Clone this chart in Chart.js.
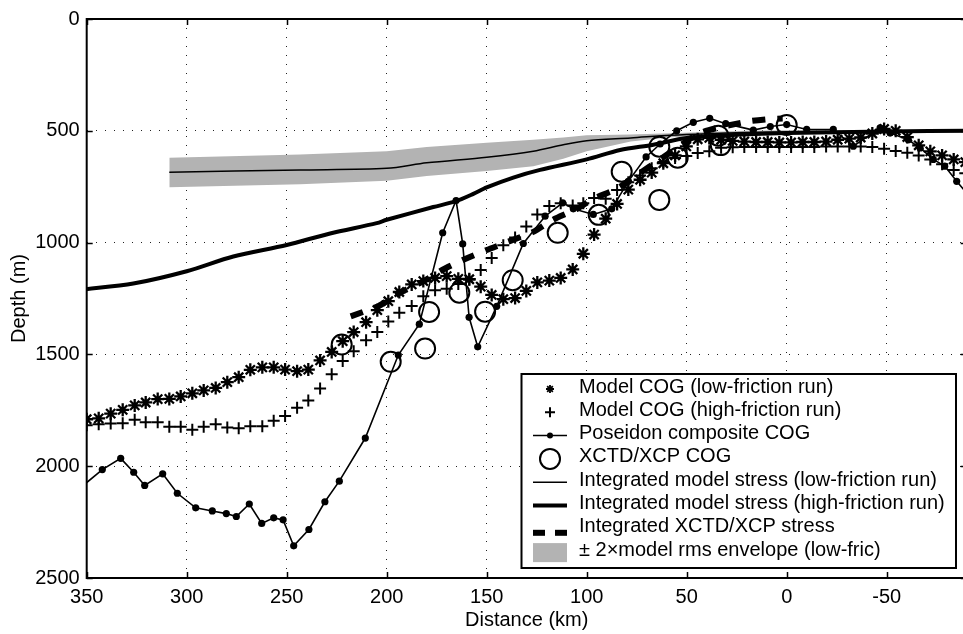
<!DOCTYPE html>
<html>
<head>
<meta charset="utf-8">
<script src="https://cdn.jsdelivr.net/npm/chart.js@4.4.1/dist/chart.umd.min.js"></script>
<style>
  html, body { margin: 0; padding: 0; background: #fff; overflow: hidden; }
  #wrap { width: 980px; height: 634px; }
</style>
</head>
<body>
<div id="wrap"><canvas id="chart" width="980" height="634"></canvas></div>
<script>
// model grid (km) shared by the two model runs
const modelDist = [350, 344, 338, 332, 326, 320.5, 314.5, 308.7, 303, 297.2, 291.5, 285.5, 279.7, 274, 268.2,
  262.2, 256.5, 250.8, 244.8, 239.2, 233.3, 227.5, 222, 216.5, 210.3, 204.7, 199.2, 193.7, 187.5, 181.7,
  175.8, 170, 164.2, 158.7, 153, 147.5, 141.7, 135.8, 130.2, 124.7, 118.7, 113, 107, 101.7, 96.3, 90.5,
  84.8, 79.2, 73.3, 67.5, 61.7, 55.8, 50.2, 44.5, 38.7, 32.8, 27, 21.2, 15.3, 9.5, 3.7, -2.2, -8, -13.8,
  -19.7, -25.5, -31.3, -37, -42.8, -48.7, -54.5, -60.3, -66, -71.8, -77.7, -83.5, -89.3];
const lowFricCog = [1790, 1786, 1765, 1748, 1728, 1715, 1700, 1699, 1688, 1674, 1661, 1650, 1624, 1602, 1569,
  1558, 1558, 1568, 1575, 1568, 1527, 1489, 1441, 1400, 1356, 1302, 1262, 1221, 1187, 1172,
  1158, 1150, 1162, 1164, 1197, 1234, 1253, 1248, 1216, 1178, 1170, 1158, 1120, 1050, 964, 893,
  827, 763, 719, 687, 645, 610, 570, 538, 532, 540, 545, 548, 550, 550, 552, 552, 550, 550,
  548, 540, 535, 530, 512, 492, 500, 528, 565, 592, 610, 628, 640];
const highFricCog = [1817, 1812, 1809, 1808, 1792, 1803, 1803, 1824, 1824, 1837, 1824, 1812, 1827, 1830, 1821,
  1821, 1797, 1775, 1739, 1706, 1653, 1589, 1530, 1486, 1437, 1400, 1353, 1314, 1283, 1240,
  1213, 1206, 1185, 1165, 1123, 1069, 1012, 977, 928, 874, 836, 824, 834, 824, 800, 804,
  765, 730, 700, 668, 640, 622, 613, 599, 592, 576, 574, 573, 573, 573, 573, 573, 573, 573,
  570, 570, 570, 570, 573, 580, 590, 598, 610, 628, 650, 675, 690];

const poseidonDist = [356, 342.2, 333, 326.5, 321, 312, 304.7, 295.5, 287.2, 280.2, 275.2, 268.7, 262.5, 256.5,
  251.8, 246.5, 238.9, 230.9, 223.7, 210.7, 194.2, 183.7, 172, 165.3, 162, 158.8, 154.5, 145, 131.7,
  120.8, 112, 106.7, 96.7, 87.5, 79.2, 70.3, 63.3, 55, 46.7, 38.5, 30.5, 16.7, 8.2, 0, -10, -23.3,
  -33.3, -46.7, -51.7, -60.8, -66.7, -73.3, -79, -85, -91];
const poseidonCog = [2118, 2015, 1965, 2027, 2086, 2034, 2121, 2186, 2200, 2212, 2225, 2169, 2256, 2231,
  2240, 2356, 2283, 2159, 2067, 1874, 1503, 1365, 956, 812, 1006, 1334, 1466, 1285, 1004,
  882, 822, 849, 874, 849, 726, 617, 559, 500, 462, 444, 468, 497, 481, 472, 494, 494,
  569, 487, 510, 540, 577, 628, 658, 726, 790];

const xctdDist = [222.5, 198, 180.8, 178.8, 163.7, 150.8, 137, 114.5, 94, 82.5, 63.7, 63.7, 54.5, 34.2, 33, 0];
const xctdCog = [1456, 1533, 1474, 1310, 1224, 1309, 1168, 956, 876, 683, 809, 571, 620, 522, 564, 474];

const xctdStressDist = [218, 204, 193.3, 182.5, 172, 161.7, 150, 139.2, 126.7, 116.7, 105, 96.7, 85, 74.2, 63.3, 43, 20, 8.3, 2];
const xctdStress = [1330, 1283, 1224, 1177, 1121, 1077, 1033, 996, 952, 897, 850, 804, 760, 694, 628, 509, 459, 447, 445];

const lowStressDist = [308.7, 243.3, 200, 180, 150, 126.7, 111.7, 100, 78, 58, 40, 20, 0, -50, -92];
const lowStress = [685, 675, 668, 643, 618, 591, 562, 544, 532, 520, 513, 508, 506, 503, 501];
const envTop = [620, 606, 591, 572, 554, 540, 530, 520, 516, 511, 505, 500, 498, 496, 494];
const envBottom = [753, 739, 723, 702, 680, 658, 625, 591, 548, 529, 521, 516, 514, 510, 508];

const highStressDist = [352, 326.7, 300, 276.7, 250, 228.3, 205, 200, 176.7, 165.8, 156.7, 150, 136.7, 123.3,
  100, 83.3, 66.7, 50, 25, 0, -50, -92];
const highStress = [1210, 1183, 1128, 1062, 1011, 959, 913, 898, 841, 816, 782, 753, 709, 675,
  628, 586, 562, 532, 518, 510, 503, 500];

const xTicks = [350, 300, 250, 200, 150, 100, 50, 0, -50];
const yTicks = [0, 500, 1000, 1500, 2000, 2500];

const legendLabels = [
  'Model COG (low-friction run)',
  'Model COG (high-friction run)',
  'Poseidon composite COG',
  'XCTD/XCP COG',
  'Integrated model stress (low-friction run)',
  'Integrated model stress (high-friction run)',
  'Integrated XCTD/XCP stress',
  '\u00b1 2\u00d7model rms envelope (low-fric)'
];

const FONT = '"Liberation Sans", Arial, Helvetica, sans-serif';
const pts = (xs, ys) => xs.map((x, i) => ({ x: x, y: ys[i] }));

// frame, inward ticks and the boxed legend
const framePlugin = {
  id: 'frame',
  afterDraw(chart) {
    const ctx = chart.ctx;
    const a = chart.chartArea;
    const xs = chart.scales.x, ys = chart.scales.y;
    ctx.save();
    ctx.strokeStyle = '#000';
    ctx.lineWidth = 2;
    ctx.strokeRect(a.left, a.top, a.right - a.left, a.bottom - a.top);
    ctx.lineWidth = 1.5;
    ctx.beginPath();
    xTicks.forEach(v => {
      const px = Math.round(xs.getPixelForValue(v)) + 0.5;
      ctx.moveTo(px, a.top); ctx.lineTo(px, a.top + 6);
      ctx.moveTo(px, a.bottom); ctx.lineTo(px, a.bottom - 6);
    });
    yTicks.forEach(v => {
      const py = Math.round(ys.getPixelForValue(v)) + 0.5;
      ctx.moveTo(a.left, py); ctx.lineTo(a.left + 6, py);
      ctx.moveTo(a.right, py); ctx.lineTo(a.right - 6, py);
    });
    ctx.stroke();

    // legend
    const L = 521.5, T = 374, R = 956, B = 568;
    ctx.fillStyle = '#fff';
    ctx.fillRect(L, T, R - L, B - T);
    ctx.lineWidth = 2;
    ctx.strokeRect(L, T, R - L, B - T);
    const sx = 550, x0 = 533, x1 = 567;
    ctx.font = '20px ' + FONT;
    ctx.textBaseline = 'middle';
    ctx.textAlign = 'left';
    legendLabels.forEach((txt, i) => {
      const cy = 387 + 23.3 * i;
      ctx.fillStyle = '#000';
      ctx.strokeStyle = '#000';
      ctx.setLineDash([]);
      if (i === 0) {
        ctx.lineWidth = 1.8;
        ctx.beginPath();
        for (let k = 0; k < 4; k++) {
          const ang = k * Math.PI / 4;
          const r = 4;
          ctx.moveTo(sx - r * Math.cos(ang), cy + 2 - r * Math.sin(ang));
          ctx.lineTo(sx + r * Math.cos(ang), cy + 2 + r * Math.sin(ang));
        }
        ctx.stroke();
      } else if (i === 1) {
        ctx.lineWidth = 2;
        ctx.beginPath();
        ctx.moveTo(sx - 5, cy + 2); ctx.lineTo(sx + 5, cy + 2);
        ctx.moveTo(sx, cy - 3); ctx.lineTo(sx, cy + 7);
        ctx.stroke();
      } else if (i === 2) {
        ctx.lineWidth = 1.5;
        ctx.beginPath(); ctx.moveTo(x0, cy + 2); ctx.lineTo(x1, cy + 2); ctx.stroke();
        ctx.beginPath(); ctx.arc(sx, cy + 2, 3, 0, Math.PI * 2); ctx.fill();
      } else if (i === 3) {
        ctx.lineWidth = 2;
        ctx.beginPath(); ctx.arc(sx, cy + 2, 10, 0, Math.PI * 2); ctx.stroke();
      } else if (i === 4) {
        ctx.lineWidth = 1.5;
        ctx.beginPath(); ctx.moveTo(x0, cy + 2); ctx.lineTo(x1, cy + 2); ctx.stroke();
      } else if (i === 5) {
        ctx.lineWidth = 4;
        ctx.beginPath(); ctx.moveTo(x0, cy + 2); ctx.lineTo(x1, cy + 2); ctx.stroke();
      } else if (i === 6) {
        ctx.fillRect(x0, cy + 3, 12, 6);
        ctx.fillRect(x1 - 12, cy + 3, 12, 6);
      } else {
        ctx.fillStyle = '#b3b3b3';
        ctx.fillRect(x0, cy - 7, x1 - x0, 19);
        ctx.fillStyle = '#000';
      }
      ctx.fillText(txt, 579, cy);
    });
    ctx.restore();
  }
};

new Chart(document.getElementById('chart'), {
  type: 'line',
  data: {
    datasets: [
      {
        data: pts(lowStressDist, envTop),
        borderWidth: 0, pointRadius: 0, fill: false, order: 20
      },
      {
        data: pts(lowStressDist, envBottom),
        borderWidth: 0, pointRadius: 0, fill: '-1',
        backgroundColor: '#b3b3b3', order: 19
      },
      {
        data: pts(lowStressDist, lowStress),
        borderColor: '#000', borderWidth: 1.5, pointRadius: 0, tension: 0.3, order: 18
      },
      {
        data: pts(highStressDist, highStress),
        borderColor: '#000', borderWidth: 4, pointRadius: 0, tension: 0.3, order: 17
      },
      {
        data: pts(xctdStressDist, xctdStress),
        borderColor: '#000', borderWidth: 6, borderDash: [13, 12], borderCapStyle: 'butt',
        pointRadius: 0, tension: 0.2, order: 16
      },
      {
        data: pts(poseidonDist, poseidonCog),
        borderColor: '#000', borderWidth: 1.6, pointRadius: 3.6,
        pointBackgroundColor: '#000', pointBorderColor: '#000', pointBorderWidth: 0, order: 15
      },
      {
        data: pts(xctdDist, xctdCog),
        showLine: false, pointRadius: 10, pointBorderWidth: 2,
        pointBorderColor: '#000', pointBackgroundColor: 'rgba(0,0,0,0)', order: 14
      },
      {
        data: pts(modelDist, lowFricCog),
        showLine: false, pointStyle: 'star', pointRadius: 6.5, pointBorderWidth: 2.3,
        pointBorderColor: '#000', pointBackgroundColor: '#000', order: 13
      },
      {
        data: pts(modelDist, highFricCog),
        showLine: false, pointStyle: 'cross', pointRadius: 6, pointBorderWidth: 2,
        pointBorderColor: '#000', pointBackgroundColor: '#000', order: 12
      }
    ]
  },
  options: {
    responsive: false,
    animation: false,
    events: [],
    layout: { padding: { left: 0, top: 12.7, right: 13.3, bottom: 0 } },
    plugins: { legend: { display: false }, tooltip: { enabled: false } },
    scales: {
      x: {
        type: 'linear',
        reverse: true,
        min: -90,
        max: 350,
        afterBuildTicks: s => { s.ticks = xTicks.map(v => ({ value: v })); },
        afterFit: s => { s.height = 56; },
        grid: { color: '#222', lineWidth: 1, drawTicks: false },
        border: { display: false, dash: [1, 8] },
        ticks: {
          color: '#000', padding: 7, maxRotation: 0,
          font: { family: FONT, size: 20 },
          callback: v => String(v)
        },
        title: {
          display: true, text: 'Distance (km)', color: '#000',
          font: { family: FONT, size: 20 }, padding: { top: 0, bottom: 2 }
        }
      },
      y: {
        type: 'linear',
        reverse: true,
        min: 0,
        max: 2500,
        afterBuildTicks: s => { s.ticks = yTicks.map(v => ({ value: v })); },
        afterFit: s => { s.width = 86.7; },
        grid: { color: '#222', lineWidth: 1, drawTicks: false },
        border: { display: false, dash: [1, 8] },
        ticks: {
          color: '#000', padding: 7,
          font: { family: FONT, size: 20 },
          callback: v => String(v)
        },
        title: {
          display: true, text: 'Depth (m)', color: '#000',
          font: { family: FONT, size: 20 }, padding: { top: 7.5, bottom: 0 }
        }
      }
    }
  },
  plugins: [framePlugin]
});
</script>
</body>
</html>
